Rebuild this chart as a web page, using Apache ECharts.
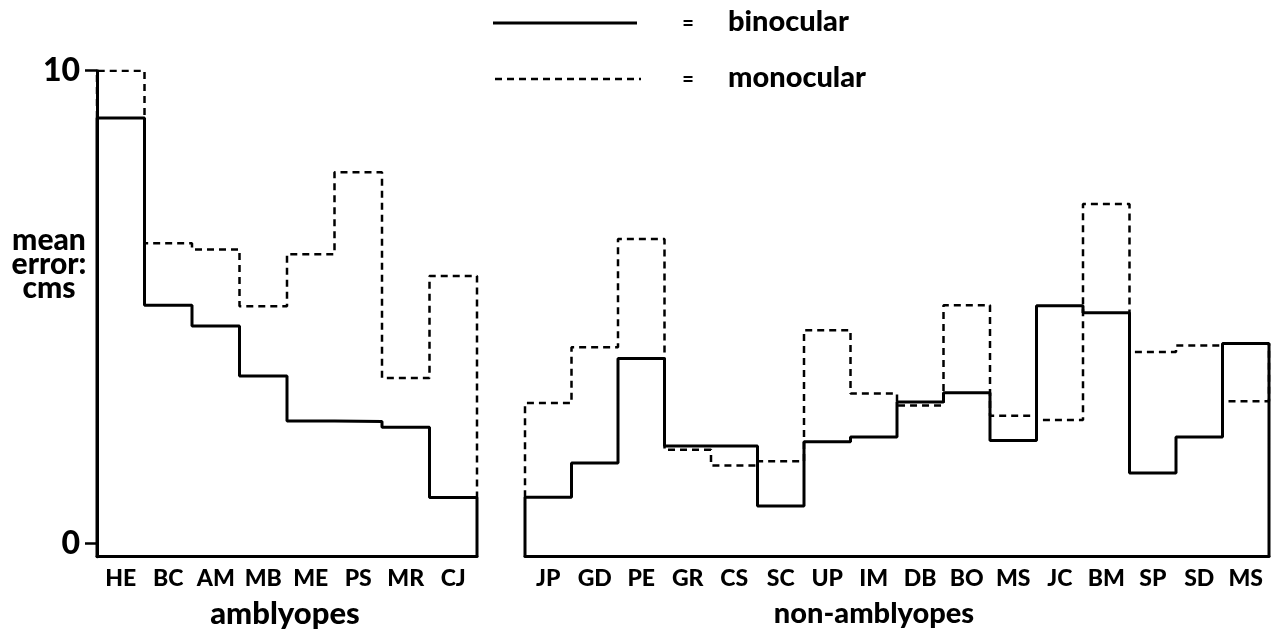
<!DOCTYPE html>
<html>
<head>
<meta charset="utf-8">
<script src="https://cdn.jsdelivr.net/npm/echarts@6/dist/echarts.min.js"></script>
<style>
  html, body { margin: 0; padding: 0; background: #fff; }
  #chart { width: 1281px; height: 637px; }
</style>
</head>
<body>
<div id="chart"></div>
<script>
// ---- data ----
const amblyCategories = ['HE', 'BC', 'AM', 'MB', 'ME', 'PS', 'MR', 'CJ'];
const amblyBinocular  = [9.0, 5.04, 4.6, 3.54, 2.59, 2.58, 2.46, 0.97];
const amblyMonocular  = [10.0, 6.35, 6.22, 5.02, 6.12, 7.85, 3.50, 5.66];

const nonCategories = ['JP', 'GD', 'PE', 'GR', 'CS', 'SC', 'UP', 'IM', 'DB', 'BO', 'MS', 'JC', 'BM', 'SP', 'SD', 'MS'];
const nonBinocular  = [0.98, 1.70, 3.91, 2.06, 2.06, 0.79, 2.15, 2.25, 2.99, 3.19, 2.18, 5.03, 4.88, 1.49, 2.25, 4.23];
const nonMonocular  = [2.97, 4.15, 6.44, 1.98, 1.65, 1.74, 4.51, 3.17, 2.92, 5.04, 2.70, 2.61, 7.18, 4.05, 4.19, 3.01];

const yTickValues = [0, 10];
const yLabelText = 'mean\nerror:\ncms';
const panelTitles = ['amblyopes', 'non-amblyopes'];
const legendNames = ['binocular', 'monocular'];

// ---- helpers (build step outlines from the arrays) ----
const Y_MIN = -0.28, Y_MAX = 10;
function solidOutline(vals) {
  const n = vals.length;
  const pts = [[0, Y_MIN]];
  vals.forEach((v, i) => pts.push([i, v]));
  pts.push([n, vals[n - 1]]);
  pts.push([n, Y_MIN]);
  return pts;
}
function dashedOutline(mono, bino) {
  const n = mono.length;
  const pts = [[0, bino[0]]];
  mono.forEach((v, i) => pts.push([i, v]));
  pts.push([n, mono[n - 1]]);
  pts.push([n, bino[n - 1]]);
  return pts;
}

const FONT = 'Lato, "Open Sans", sans-serif';
const W = '900';
const BLACK = '#000';

function xAxisFor(cats, gridIndex) {
  return {
    type: 'value', gridIndex, min: 0, max: cats.length,
    axisLine: { show: true, onZero: false, lineStyle: { color: BLACK, width: 3 } },
    axisTick: { show: false },
    splitLine: { show: false },
    axisLabel: {
      show: true,
      customValues: cats.map((c, i) => i + 0.5),
      formatter: v => cats[Math.floor(v)],
      color: BLACK, fontFamily: FONT, fontWeight: W, fontSize: 23, margin: 10
    }
  };
}

const chart = echarts.init(document.getElementById('chart'), null, { renderer: 'canvas' });
chart.setOption({
  backgroundColor: '#fff',
  animation: false,
  grid: [
    { left: 97, top: 70.7, width: 380, height: 486 },
    { left: 525, top: 70.7, width: 744, height: 486 }
  ],
  xAxis: [xAxisFor(amblyCategories, 0), xAxisFor(nonCategories, 1)],
  yAxis: [
    {
      type: 'value', gridIndex: 0, min: Y_MIN, max: Y_MAX,
      axisLine: { show: true, onZero: false, lineStyle: { color: BLACK, width: 3 } },
      axisTick: { show: true, customValues: yTickValues, length: 12, lineStyle: { color: BLACK, width: 2.5 } },
      axisLabel: { show: true, customValues: yTickValues, color: BLACK, fontFamily: FONT, fontWeight: W, fontSize: 32, margin: 17 },
      splitLine: { show: false }
    },
    {
      type: 'value', gridIndex: 1, min: Y_MIN, max: Y_MAX, show: false,
      splitLine: { show: false }
    }
  ],
  series: [
    {
      name: legendNames[1], type: 'line', xAxisIndex: 0, yAxisIndex: 0, step: 'end',
      showSymbol: false, silent: true,
      lineStyle: { color: BLACK, width: 2.5, type: [7, 5] },
      data: dashedOutline(amblyMonocular, amblyBinocular)
    },
    {
      name: legendNames[0], type: 'line', xAxisIndex: 0, yAxisIndex: 0, step: 'end',
      showSymbol: false, silent: true,
      lineStyle: { color: BLACK, width: 3 },
      data: solidOutline(amblyBinocular)
    },
    {
      name: legendNames[1], type: 'line', xAxisIndex: 1, yAxisIndex: 1, step: 'end',
      showSymbol: false, silent: true,
      lineStyle: { color: BLACK, width: 2.5, type: [7, 5] },
      data: dashedOutline(nonMonocular, nonBinocular)
    },
    {
      name: legendNames[0], type: 'line', xAxisIndex: 1, yAxisIndex: 1, step: 'end',
      showSymbol: false, silent: true,
      lineStyle: { color: BLACK, width: 3 },
      data: solidOutline(nonBinocular)
    }
  ],
  graphic: [
    { type: 'text', x: 49, y: 264,
      style: { text: yLabelText, textAlign: 'center', textVerticalAlign: 'middle', fill: BLACK,
               font: W + ' 30px ' + FONT, lineHeight: 24 } },
    { type: 'text', x: 285, y: 614,
      style: { text: panelTitles[0], textAlign: 'center', textVerticalAlign: 'middle', fill: BLACK, font: W + ' 31px ' + FONT } },
    { type: 'text', x: 874, y: 614,
      style: { text: panelTitles[1], textAlign: 'center', textVerticalAlign: 'middle', fill: BLACK, font: W + ' 29px ' + FONT } },
    // legend
    { type: 'line', shape: { x1: 493, y1: 23, x2: 637, y2: 23 }, style: { stroke: BLACK, lineWidth: 3 } },
    { type: 'text', x: 688, y: 24,
      style: { text: '=', textAlign: 'center', textVerticalAlign: 'middle', fill: BLACK, font: W + ' 20px ' + FONT } },
    { type: 'text', x: 728, y: 22,
      style: { text: legendNames[0], textAlign: 'left', textVerticalAlign: 'middle', fill: BLACK, font: W + ' 29px ' + FONT } },
    { type: 'line', shape: { x1: 495, y1: 79, x2: 641, y2: 79 }, style: { stroke: BLACK, lineWidth: 2.5, lineDash: [7, 5] } },
    { type: 'text', x: 688, y: 80,
      style: { text: '=', textAlign: 'center', textVerticalAlign: 'middle', fill: BLACK, font: W + ' 20px ' + FONT } },
    { type: 'text', x: 728, y: 78,
      style: { text: legendNames[1], textAlign: 'left', textVerticalAlign: 'middle', fill: BLACK, font: W + ' 29px ' + FONT } }
  ]
});
</script>
</body>
</html>
